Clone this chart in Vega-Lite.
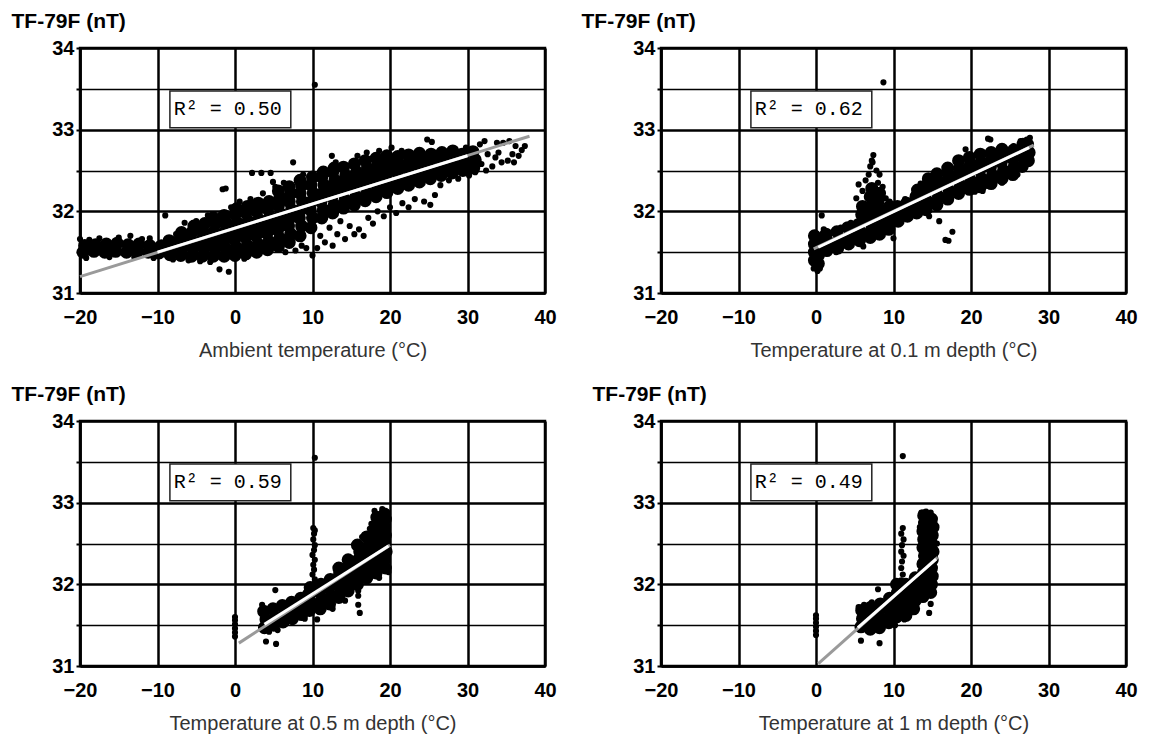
{
  "$schema": "https://vega.github.io/schema/vega-lite/v6.json",
  "background": "white",
  "padding": {"left": 9, "top": 8, "right": 5, "bottom": 5},
  "datasets": {
    "d1": [
      {"x":-19.6,"y":31.5},{"x":-19.4,"y":31.58},{"x":-18.2,"y":31.51},{"x":-18.0,"y":31.59},
      {"x":-16.8,"y":31.5},{"x":-16.6,"y":31.6},{"x":-15.4,"y":31.51},{"x":-15.2,"y":31.61},
      {"x":-14.0,"y":31.5},{"x":-13.8,"y":31.59},{"x":-12.6,"y":31.51},{"x":-12.4,"y":31.6},
      {"x":-11.2,"y":31.5},{"x":-11.0,"y":31.58},{"x":-9.8,"y":31.49},{"x":-9.6,"y":31.57},
      {"x":-8.4,"y":31.47},{"x":-8.2,"y":31.56},{"x":-8.5,"y":31.64},
      {"x":-7.0,"y":31.46},{"x":-6.8,"y":31.55},{"x":-7.1,"y":31.65},{"x":-6.9,"y":31.74},
      {"x":-5.6,"y":31.45},{"x":-5.4,"y":31.55},{"x":-5.7,"y":31.65},{"x":-5.5,"y":31.75},{"x":-5.3,"y":31.82},
      {"x":-4.2,"y":31.45},{"x":-4.0,"y":31.55},{"x":-4.3,"y":31.65},{"x":-4.1,"y":31.75},{"x":-3.9,"y":31.85},
      {"x":-2.8,"y":31.45},{"x":-2.6,"y":31.55},{"x":-2.9,"y":31.65},{"x":-2.7,"y":31.75},{"x":-2.5,"y":31.85},{"x":-2.8,"y":31.92},
      {"x":-1.4,"y":31.45},{"x":-1.2,"y":31.55},{"x":-1.5,"y":31.65},{"x":-1.3,"y":31.75},{"x":-1.1,"y":31.85},{"x":-1.4,"y":31.95},
      {"x":0.0,"y":31.46},{"x":0.2,"y":31.56},{"x":-0.1,"y":31.66},{"x":0.1,"y":31.76},{"x":0.3,"y":31.86},{"x":0.0,"y":31.96},{"x":0.2,"y":32.03},
      {"x":1.4,"y":31.48},{"x":1.6,"y":31.58},{"x":1.3,"y":31.68},{"x":1.5,"y":31.78},{"x":1.7,"y":31.88},{"x":1.4,"y":31.98},{"x":1.6,"y":32.06},
      {"x":2.8,"y":31.5},{"x":3.0,"y":31.6},{"x":2.7,"y":31.7},{"x":2.9,"y":31.8},{"x":3.1,"y":31.9},{"x":2.8,"y":32.0},{"x":3.0,"y":32.1},
      {"x":4.2,"y":31.53},{"x":4.4,"y":31.63},{"x":4.1,"y":31.73},{"x":4.3,"y":31.83},{"x":4.5,"y":31.93},{"x":4.2,"y":32.03},{"x":4.4,"y":32.12},
      {"x":5.6,"y":31.57},{"x":5.8,"y":31.67},{"x":5.5,"y":31.77},{"x":5.7,"y":31.87},{"x":5.9,"y":31.97},{"x":5.6,"y":32.07},{"x":5.8,"y":32.17},{"x":5.6,"y":32.25},
      {"x":7.0,"y":31.62},{"x":7.2,"y":31.72},{"x":6.9,"y":31.82},{"x":7.1,"y":31.92},{"x":7.3,"y":32.02},{"x":7.0,"y":32.12},{"x":7.2,"y":32.22},{"x":7.0,"y":32.3},
      {"x":8.4,"y":31.7},{"x":8.6,"y":31.82},{"x":8.3,"y":31.92},{"x":8.5,"y":32.02},{"x":8.7,"y":32.12},{"x":8.4,"y":32.22},{"x":8.6,"y":32.32},{"x":8.4,"y":32.38},
      {"x":9.8,"y":31.8},{"x":10.0,"y":31.92},{"x":9.7,"y":32.02},{"x":9.9,"y":32.12},{"x":10.1,"y":32.22},{"x":9.8,"y":32.32},{"x":10.0,"y":32.42},
      {"x":11.2,"y":31.92},{"x":11.4,"y":32.02},{"x":11.1,"y":32.12},{"x":11.3,"y":32.22},{"x":11.5,"y":32.32},{"x":11.2,"y":32.42},{"x":11.4,"y":32.48},
      {"x":12.6,"y":31.98},{"x":12.8,"y":32.08},{"x":12.5,"y":32.18},{"x":12.7,"y":32.28},{"x":12.9,"y":32.38},{"x":12.6,"y":32.48},{"x":12.8,"y":32.53},
      {"x":14.0,"y":32.04},{"x":14.2,"y":32.14},{"x":13.9,"y":32.24},{"x":14.1,"y":32.34},{"x":14.3,"y":32.44},{"x":14.0,"y":32.54},
      {"x":15.4,"y":32.08},{"x":15.6,"y":32.18},{"x":15.3,"y":32.28},{"x":15.5,"y":32.38},{"x":15.7,"y":32.48},{"x":15.4,"y":32.58},
      {"x":16.8,"y":32.13},{"x":17.0,"y":32.23},{"x":16.7,"y":32.33},{"x":16.9,"y":32.43},{"x":17.1,"y":32.53},{"x":16.8,"y":32.62},
      {"x":18.2,"y":32.18},{"x":18.4,"y":32.28},{"x":18.1,"y":32.38},{"x":18.3,"y":32.48},{"x":18.5,"y":32.58},{"x":18.2,"y":32.65},
      {"x":19.6,"y":32.23},{"x":19.8,"y":32.33},{"x":19.5,"y":32.43},{"x":19.7,"y":32.53},{"x":19.9,"y":32.63},{"x":19.6,"y":32.68},
      {"x":21.0,"y":32.28},{"x":21.2,"y":32.38},{"x":20.9,"y":32.48},{"x":21.1,"y":32.58},{"x":21.0,"y":32.67},
      {"x":22.4,"y":32.32},{"x":22.6,"y":32.42},{"x":22.3,"y":32.52},{"x":22.5,"y":32.62},{"x":22.4,"y":32.69},
      {"x":23.8,"y":32.36},{"x":24.0,"y":32.46},{"x":23.7,"y":32.56},{"x":23.9,"y":32.66},{"x":23.8,"y":32.71},
      {"x":25.2,"y":32.4},{"x":25.4,"y":32.5},{"x":25.1,"y":32.6},{"x":25.3,"y":32.7},
      {"x":26.6,"y":32.44},{"x":26.8,"y":32.54},{"x":26.5,"y":32.64},{"x":26.7,"y":32.72},
      {"x":28.0,"y":32.47},{"x":28.2,"y":32.57},{"x":27.9,"y":32.67},{"x":28.1,"y":32.74},
      {"x":29.4,"y":32.5},{"x":29.6,"y":32.6},{"x":29.3,"y":32.7},
      {"x":30.8,"y":32.53},{"x":31.0,"y":32.63},{"x":30.7,"y":32.73}
    ],
    "s1": [
      {"x":-20.0,"y":31.66},{"x":-19.2,"y":31.43},{"x":-18.8,"y":31.65},{"x":-17.5,"y":31.67},{"x":-16.2,"y":31.44},
      {"x":-15.0,"y":31.68},{"x":-13.5,"y":31.7},{"x":-13.0,"y":31.44},{"x":-12.0,"y":31.66},{"x":-11.0,"y":31.67},
      {"x":-10.5,"y":31.43},{"x":-9.0,"y":31.95},{"x":-9.5,"y":31.62},{"x":-8.0,"y":31.41},{"x":-7.6,"y":31.72},
      {"x":-6.5,"y":31.86},{"x":-6.0,"y":31.4},{"x":-5.0,"y":31.88},{"x":-4.5,"y":31.39},{"x":-3.5,"y":31.95},
      {"x":-3.2,"y":31.38},{"x":-2.0,"y":31.29},{"x":-0.8,"y":31.26},{"x":-1.6,"y":32.27},{"x":-1.2,"y":32.28},
      {"x":-0.5,"y":32.05},{"x":0.6,"y":32.12},{"x":1.2,"y":31.42},{"x":2.0,"y":32.15},{"x":2.2,"y":32.47},
      {"x":3.4,"y":32.47},{"x":4.6,"y":32.47},{"x":4.9,"y":32.36},{"x":3.6,"y":32.22},{"x":5.2,"y":32.3},
      {"x":6.3,"y":32.35},{"x":7.5,"y":32.6},{"x":8.8,"y":32.45},{"x":9.2,"y":31.55},{"x":10.0,"y":31.46},
      {"x":10.6,"y":31.55},{"x":11.0,"y":31.7},{"x":11.6,"y":31.62},{"x":12.2,"y":31.8},{"x":12.6,"y":31.58},
      {"x":13.2,"y":31.72},{"x":13.6,"y":31.88},{"x":14.2,"y":31.66},{"x":14.8,"y":31.82},{"x":15.4,"y":31.72},
      {"x":16.0,"y":31.78},{"x":16.6,"y":31.7},{"x":17.2,"y":31.92},{"x":17.8,"y":31.85},{"x":18.4,"y":32.0},
      {"x":19.2,"y":31.94},{"x":20.0,"y":32.05},{"x":20.8,"y":31.98},{"x":21.6,"y":32.1},{"x":22.4,"y":32.05},
      {"x":23.2,"y":32.15},{"x":24.4,"y":32.12},{"x":25.2,"y":32.08},{"x":25.8,"y":32.2},{"x":12.5,"y":32.68},
      {"x":10.3,"y":33.55},{"x":13.0,"y":32.6},{"x":15.8,"y":32.68},{"x":17.0,"y":32.72},{"x":18.6,"y":32.74},
      {"x":20.2,"y":32.78},{"x":21.5,"y":32.74},{"x":24.8,"y":32.88},{"x":25.4,"y":32.85},{"x":26.5,"y":32.32},
      {"x":27.6,"y":32.38},{"x":28.8,"y":32.4},{"x":30.2,"y":32.44},{"x":31.0,"y":32.48},{"x":29.8,"y":32.78},
      {"x":31.6,"y":32.82},{"x":32.2,"y":32.86},{"x":33.2,"y":32.55},{"x":33.8,"y":32.84},{"x":34.6,"y":32.84},
      {"x":35.4,"y":32.86},{"x":36.2,"y":32.8},{"x":37.4,"y":32.8},{"x":32.6,"y":32.7},{"x":33.6,"y":32.66},
      {"x":34.4,"y":32.6},{"x":35.2,"y":32.62},{"x":35.8,"y":32.7},{"x":36.6,"y":32.68},{"x":37.0,"y":32.75},
      {"x":31.8,"y":32.58},{"x":32.4,"y":32.5},{"x":34.0,"y":32.72},{"x":36.0,"y":32.6},{"x":6.5,"y":31.5},
      {"x":7.8,"y":31.52},{"x":8.6,"y":31.58}
    ],
    "d2": [
      {"x":-0.2,"y":31.4},{"x":-0.2,"y":31.5},{"x":-0.2,"y":31.6},{"x":-0.2,"y":31.7},
      {"x":0.3,"y":31.36},{"x":0.3,"y":31.46},{"x":0.3,"y":31.56},{"x":0.3,"y":31.66},
      {"x":1.4,"y":31.52},{"x":1.6,"y":31.62},{"x":1.3,"y":31.72},
      {"x":2.8,"y":31.55},{"x":3.0,"y":31.65},{"x":2.7,"y":31.75},
      {"x":4.2,"y":31.6},{"x":4.4,"y":31.7},{"x":4.1,"y":31.8},
      {"x":5.6,"y":31.64},{"x":5.8,"y":31.74},{"x":5.5,"y":31.84},{"x":5.9,"y":31.96},{"x":6.0,"y":32.06},
      {"x":7.0,"y":31.68},{"x":7.2,"y":31.78},{"x":6.9,"y":31.88},{"x":7.1,"y":31.98},{"x":7.3,"y":32.08},{"x":7.0,"y":32.18},{"x":7.2,"y":32.28},
      {"x":8.2,"y":31.72},{"x":8.4,"y":31.82},{"x":8.1,"y":31.92},{"x":8.3,"y":32.02},{"x":8.0,"y":32.12},{"x":8.2,"y":32.22},
      {"x":9.4,"y":31.78},{"x":9.6,"y":31.88},{"x":9.3,"y":31.98},{"x":9.5,"y":32.06},
      {"x":10.6,"y":31.88},{"x":10.8,"y":31.98},{"x":10.5,"y":32.06},
      {"x":11.8,"y":31.94},{"x":12.0,"y":32.02},{"x":11.7,"y":32.1},
      {"x":13.0,"y":31.98},{"x":13.2,"y":32.08},{"x":12.9,"y":32.18},{"x":13.1,"y":32.26},
      {"x":14.2,"y":32.02},{"x":14.4,"y":32.12},{"x":14.1,"y":32.22},{"x":14.3,"y":32.32},{"x":14.5,"y":32.4},
      {"x":15.6,"y":32.08},{"x":15.8,"y":32.18},{"x":15.5,"y":32.28},{"x":15.7,"y":32.38},{"x":15.6,"y":32.46},
      {"x":17.0,"y":32.15},{"x":17.2,"y":32.25},{"x":16.9,"y":32.35},{"x":17.1,"y":32.45},{"x":17.0,"y":32.53},
      {"x":18.4,"y":32.22},{"x":18.6,"y":32.32},{"x":18.3,"y":32.42},{"x":18.5,"y":32.52},{"x":18.4,"y":32.62},
      {"x":19.8,"y":32.27},{"x":20.0,"y":32.37},{"x":19.7,"y":32.47},{"x":19.9,"y":32.57},{"x":19.8,"y":32.66},
      {"x":21.2,"y":32.3},{"x":21.4,"y":32.4},{"x":21.1,"y":32.5},{"x":21.3,"y":32.6},{"x":21.2,"y":32.7},
      {"x":22.6,"y":32.34},{"x":22.8,"y":32.44},{"x":22.5,"y":32.54},{"x":22.7,"y":32.64},{"x":22.6,"y":32.72},
      {"x":24.0,"y":32.4},{"x":24.2,"y":32.5},{"x":23.9,"y":32.6},{"x":24.1,"y":32.7},{"x":24.0,"y":32.76},
      {"x":25.4,"y":32.45},{"x":25.6,"y":32.55},{"x":25.3,"y":32.65},{"x":25.5,"y":32.75},
      {"x":26.6,"y":32.55},{"x":26.8,"y":32.65},{"x":26.5,"y":32.75},{"x":26.7,"y":32.82},
      {"x":27.4,"y":32.62},{"x":27.5,"y":32.72},{"x":27.3,"y":32.82}
    ],
    "s2": [
      {"x":-0.3,"y":31.3},{"x":0.2,"y":31.27},{"x":0.5,"y":31.3},{"x":0.74,"y":31.95},{"x":2.6,"y":31.5},
      {"x":6.1,"y":31.57},{"x":10.0,"y":31.67},{"x":1.0,"y":31.78},{"x":3.2,"y":31.8},{"x":4.5,"y":31.86},
      {"x":5.2,"y":32.16},{"x":5.5,"y":32.33},{"x":6.0,"y":32.25},{"x":6.4,"y":32.38},{"x":6.8,"y":32.45},
      {"x":7.0,"y":32.55},{"x":7.3,"y":32.6},{"x":7.4,"y":32.69},{"x":7.2,"y":32.62},{"x":7.8,"y":32.5},
      {"x":8.2,"y":32.45},{"x":8.0,"y":32.35},{"x":8.6,"y":32.3},{"x":9.0,"y":32.16},{"x":9.5,"y":32.12},
      {"x":8.7,"y":33.58},{"x":14.6,"y":31.94},{"x":15.9,"y":31.88},{"x":16.7,"y":31.65},{"x":17.1,"y":31.64},
      {"x":17.6,"y":31.75},{"x":19.3,"y":32.76},{"x":22.2,"y":32.89},{"x":22.5,"y":32.88},{"x":22.2,"y":32.31},
      {"x":24.0,"y":32.35},{"x":26.0,"y":32.45},{"x":27.6,"y":32.9},{"x":27.2,"y":32.88},{"x":11.5,"y":32.15},
      {"x":13.5,"y":32.34},{"x":20.5,"y":32.24},{"x":25.5,"y":32.8},{"x":26.4,"y":32.86},{"x":21.5,"y":32.25}
    ],
    "d3": [
      {"x":3.8,"y":31.47},{"x":4.0,"y":31.57},{"x":3.7,"y":31.67},
      {"x":5.0,"y":31.5},{"x":5.2,"y":31.6},{"x":4.9,"y":31.7},
      {"x":6.2,"y":31.54},{"x":6.4,"y":31.64},{"x":6.1,"y":31.74},
      {"x":7.4,"y":31.58},{"x":7.6,"y":31.68},{"x":7.3,"y":31.78},
      {"x":8.6,"y":31.63},{"x":8.8,"y":31.73},{"x":8.5,"y":31.83},
      {"x":9.6,"y":31.68},{"x":9.8,"y":31.78},{"x":9.5,"y":31.88},{"x":9.7,"y":31.96},
      {"x":11.0,"y":31.7},{"x":11.2,"y":31.8},{"x":10.9,"y":31.9},{"x":11.1,"y":32.0},
      {"x":12.2,"y":31.76},{"x":12.4,"y":31.86},{"x":12.1,"y":31.96},{"x":12.3,"y":32.06},
      {"x":13.4,"y":31.84},{"x":13.6,"y":31.94},{"x":13.3,"y":32.04},{"x":13.5,"y":32.14},{"x":13.4,"y":32.2},
      {"x":14.6,"y":31.92},{"x":14.8,"y":32.02},{"x":14.5,"y":32.12},{"x":14.7,"y":32.22},{"x":14.6,"y":32.3},
      {"x":15.8,"y":32.0},{"x":16.0,"y":32.1},{"x":15.7,"y":32.2},{"x":15.9,"y":32.3},{"x":16.1,"y":32.4},{"x":15.8,"y":32.48},
      {"x":17.0,"y":32.08},{"x":17.2,"y":32.18},{"x":16.9,"y":32.28},{"x":17.1,"y":32.38},{"x":17.3,"y":32.48},{"x":17.0,"y":32.58},
      {"x":18.2,"y":32.14},{"x":18.4,"y":32.24},{"x":18.1,"y":32.34},{"x":18.3,"y":32.44},{"x":18.5,"y":32.54},{"x":18.2,"y":32.64},{"x":18.4,"y":32.74},{"x":18.3,"y":32.82},
      {"x":19.4,"y":32.2},{"x":19.3,"y":32.3},{"x":19.5,"y":32.4},{"x":19.3,"y":32.5},{"x":19.4,"y":32.6},{"x":19.3,"y":32.7},{"x":19.4,"y":32.8},{"x":19.3,"y":32.86}
    ],
    "s3": [
      {"x":0.0,"y":31.36},{"x":0.0,"y":31.41},{"x":0.0,"y":31.46},{"x":0.0,"y":31.51},{"x":0.0,"y":31.56},{"x":0.0,"y":31.6},
      {"x":10.1,"y":32.69},{"x":10.3,"y":32.66},{"x":10.2,"y":32.62},{"x":10.1,"y":32.55},{"x":10.3,"y":32.48},
      {"x":10.2,"y":32.42},{"x":10.0,"y":32.36},{"x":10.3,"y":32.3},{"x":10.1,"y":32.24},{"x":10.2,"y":32.18},
      {"x":10.0,"y":32.12},{"x":10.3,"y":32.06},{"x":10.1,"y":32.0},
      {"x":10.3,"y":33.55},{"x":5.2,"y":31.93},{"x":4.0,"y":31.3},{"x":5.3,"y":31.27},{"x":15.9,"y":31.92},
      {"x":15.9,"y":31.86},{"x":15.9,"y":31.75},{"x":16.1,"y":31.65},{"x":10.6,"y":31.57},{"x":3.5,"y":31.75},
      {"x":4.4,"y":31.42},{"x":5.5,"y":31.44},{"x":9.0,"y":31.58},{"x":12.6,"y":31.7},{"x":14.2,"y":31.8},
      {"x":18.0,"y":32.9},{"x":19.0,"y":32.92},{"x":19.6,"y":32.88},{"x":17.6,"y":32.74},{"x":16.4,"y":32.58},
      {"x":17.4,"y":32.68},{"x":19.8,"y":32.15},{"x":18.6,"y":32.08}
    ],
    "d4": [
      {"x":5.8,"y":31.48},{"x":6.0,"y":31.58},{"x":5.9,"y":31.68},
      {"x":7.0,"y":31.45},{"x":7.2,"y":31.55},{"x":6.9,"y":31.65},{"x":7.1,"y":31.72},
      {"x":8.2,"y":31.47},{"x":8.4,"y":31.57},{"x":8.1,"y":31.67},{"x":8.3,"y":31.76},
      {"x":9.4,"y":31.53},{"x":9.6,"y":31.63},{"x":9.3,"y":31.73},{"x":9.5,"y":31.83},
      {"x":10.4,"y":31.6},{"x":10.6,"y":31.7},{"x":10.3,"y":31.8},{"x":10.5,"y":31.9},{"x":10.4,"y":32.0},
      {"x":11.6,"y":31.62},{"x":11.8,"y":31.72},{"x":11.5,"y":31.82},{"x":11.7,"y":31.92},{"x":11.6,"y":32.0},
      {"x":12.6,"y":31.7},{"x":12.8,"y":31.8},{"x":12.5,"y":31.9},{"x":12.7,"y":32.0},{"x":12.8,"y":32.08},
      {"x":13.8,"y":31.85},{"x":13.9,"y":31.95},{"x":13.7,"y":32.05},{"x":13.9,"y":32.15},{"x":13.8,"y":32.25},{"x":14.0,"y":32.35},
      {"x":13.8,"y":32.45},{"x":13.9,"y":32.55},{"x":13.8,"y":32.65},{"x":14.0,"y":32.75},{"x":13.9,"y":32.84},
      {"x":14.8,"y":31.9},{"x":14.9,"y":32.0},{"x":15.0,"y":32.1},{"x":14.9,"y":32.2},{"x":15.0,"y":32.3},{"x":15.1,"y":32.4},
      {"x":14.9,"y":32.5},{"x":15.0,"y":32.6},{"x":15.1,"y":32.7},{"x":14.9,"y":32.8}
    ],
    "s4": [
      {"x":0.0,"y":31.38},{"x":0.0,"y":31.43},{"x":0.0,"y":31.48},{"x":0.0,"y":31.53},{"x":0.0,"y":31.58},{"x":0.0,"y":31.62},
      {"x":11.2,"y":32.69},{"x":11.0,"y":32.62},{"x":11.3,"y":32.55},{"x":11.1,"y":32.48},{"x":11.0,"y":32.4},
      {"x":11.3,"y":32.35},{"x":11.1,"y":32.28},{"x":11.0,"y":32.2},{"x":11.2,"y":32.12},{"x":11.0,"y":32.05},
      {"x":11.2,"y":33.57},{"x":8.0,"y":31.94},{"x":5.8,"y":31.31},{"x":8.2,"y":31.28},{"x":14.6,"y":31.88},
      {"x":14.8,"y":31.76},{"x":14.6,"y":31.65},{"x":11.4,"y":31.57},{"x":5.5,"y":31.72},{"x":6.2,"y":31.75},
      {"x":7.2,"y":31.78},{"x":13.6,"y":32.88},{"x":14.2,"y":32.89},{"x":14.8,"y":32.88},{"x":13.4,"y":32.7},
      {"x":15.6,"y":32.5},{"x":9.8,"y":31.52},{"x":10.2,"y":31.5}
    ],
    "fit": [
      {"p":1,"part":"all","x":-20,"y":31.2},{"p":1,"part":"all","x":38,"y":32.92},
      {"p":1,"part":"cloud","x":-10,"y":31.5},{"p":1,"part":"cloud","x":30,"y":32.68},
      {"p":2,"part":"all","x":-0.3,"y":31.54},{"p":2,"part":"all","x":28.1,"y":32.81},
      {"p":2,"part":"cloud","x":0.3,"y":31.56},{"p":2,"part":"cloud","x":27.5,"y":32.78},
      {"p":3,"part":"all","x":0.5,"y":31.28},{"p":3,"part":"all","x":20,"y":32.48},
      {"p":3,"part":"cloud","x":3.8,"y":31.51},{"p":3,"part":"cloud","x":19.8,"y":32.47},
      {"p":4,"part":"all","x":0.3,"y":31.03},{"p":4,"part":"all","x":15.7,"y":32.33},
      {"p":4,"part":"cloud","x":5.4,"y":31.47},{"p":4,"part":"cloud","x":15.5,"y":32.31}
    ],
    "r2": [
      {"p":1,"label":"R² = 0.50"},
      {"p":2,"label":"R² = 0.62"},
      {"p":3,"label":"R² = 0.59"},
      {"p":4,"label":"R² = 0.49"}
    ]
  },
  "columns": 2,
  "spacing": {"row": 128, "column": 116},
  "bounds": "flush",
  "concat": [
    {
      "width": 465, "height": 245,
      "layer": [
        {"data": {"name": "d1"}, "mark": {"type": "circle", "size": 170, "color": "black", "opacity": 1},
         "encoding": {
           "x": {"field": "x", "type": "quantitative", "scale": {"domain": [-20, 40], "nice": false}, "axis": {"title": "Ambient temperature (°C)", "values": [-20, -10, 0, 10, 20, 30, 40]}},
           "y": {"field": "y", "type": "quantitative", "scale": {"domain": [31, 34], "nice": false, "zero": false}, "axis": {"title": "TF-79F (nT)", "titleX": -69, "values": [31, 31.5, 32, 32.5, 33, 33.5, 34]}}
         }},
        {"data": {"name": "s1"}, "mark": {"type": "circle", "size": 38, "color": "black", "opacity": 1},
         "encoding": {"x": {"field": "x", "type": "quantitative"}, "y": {"field": "y", "type": "quantitative"}}},
        {"data": {"name": "fit"}, "transform": [{"filter": "datum.p == 1 && datum.part == 'all'"}], "mark": {"type": "line", "color": "#9a9a9a", "strokeWidth": 3},
         "encoding": {"x": {"field": "x", "type": "quantitative"}, "y": {"field": "y", "type": "quantitative"}}},
        {"data": {"name": "fit"}, "transform": [{"filter": "datum.p == 1 && datum.part == 'cloud'"}], "mark": {"type": "line", "color": "white", "strokeWidth": 3},
         "encoding": {"x": {"field": "x", "type": "quantitative"}, "y": {"field": "y", "type": "quantitative"}}},
        {"data": {"name": "r2"}, "transform": [{"filter": "datum.p == 1"}], "mark": {"type": "rect", "fill": "white", "stroke": "#222", "strokeWidth": 1.5},
         "encoding": {"x": {"datum": -8.4, "type": "quantitative"}, "x2": {"datum": 7.2}, "y": {"datum": 33.475, "type": "quantitative"}, "y2": {"datum": 33.025}}},
        {"data": {"name": "r2"}, "transform": [{"filter": "datum.p == 1"}], "mark": {"type": "text", "align": "left", "baseline": "middle", "font": "Liberation Mono", "fontSize": 20, "color": "black"},
         "encoding": {"x": {"datum": -7.9, "type": "quantitative"}, "y": {"datum": 33.25, "type": "quantitative"}, "text": {"field": "label", "type": "nominal"}}}
      ]
    },
    {
      "width": 465, "height": 245,
      "layer": [
        {"data": {"name": "d2"}, "mark": {"type": "circle", "size": 170, "color": "black", "opacity": 1},
         "encoding": {
           "x": {"field": "x", "type": "quantitative", "scale": {"domain": [-20, 40], "nice": false}, "axis": {"title": "Temperature at 0.1 m depth (°C)", "values": [-20, -10, 0, 10, 20, 30, 40]}},
           "y": {"field": "y", "type": "quantitative", "scale": {"domain": [31, 34], "nice": false, "zero": false}, "axis": {"title": "TF-79F (nT)", "titleX": -80, "values": [31, 31.5, 32, 32.5, 33, 33.5, 34]}}
         }},
        {"data": {"name": "s2"}, "mark": {"type": "circle", "size": 38, "color": "black", "opacity": 1},
         "encoding": {"x": {"field": "x", "type": "quantitative"}, "y": {"field": "y", "type": "quantitative"}}},
        {"data": {"name": "fit"}, "transform": [{"filter": "datum.p == 2 && datum.part == 'all'"}], "mark": {"type": "line", "color": "#9a9a9a", "strokeWidth": 3},
         "encoding": {"x": {"field": "x", "type": "quantitative"}, "y": {"field": "y", "type": "quantitative"}}},
        {"data": {"name": "fit"}, "transform": [{"filter": "datum.p == 2 && datum.part == 'cloud'"}], "mark": {"type": "line", "color": "white", "strokeWidth": 3},
         "encoding": {"x": {"field": "x", "type": "quantitative"}, "y": {"field": "y", "type": "quantitative"}}},
        {"data": {"name": "r2"}, "transform": [{"filter": "datum.p == 2"}], "mark": {"type": "rect", "fill": "white", "stroke": "#222", "strokeWidth": 1.5},
         "encoding": {"x": {"datum": -8.4, "type": "quantitative"}, "x2": {"datum": 7.2}, "y": {"datum": 33.475, "type": "quantitative"}, "y2": {"datum": 33.025}}},
        {"data": {"name": "r2"}, "transform": [{"filter": "datum.p == 2"}], "mark": {"type": "text", "align": "left", "baseline": "middle", "font": "Liberation Mono", "fontSize": 20, "color": "black"},
         "encoding": {"x": {"datum": -7.9, "type": "quantitative"}, "y": {"datum": 33.25, "type": "quantitative"}, "text": {"field": "label", "type": "nominal"}}}
      ]
    },
    {
      "width": 465, "height": 245,
      "layer": [
        {"data": {"name": "d3"}, "mark": {"type": "circle", "size": 170, "color": "black", "opacity": 1},
         "encoding": {
           "x": {"field": "x", "type": "quantitative", "scale": {"domain": [-20, 40], "nice": false}, "axis": {"title": "Temperature at 0.5 m depth (°C)", "values": [-20, -10, 0, 10, 20, 30, 40]}},
           "y": {"field": "y", "type": "quantitative", "scale": {"domain": [31, 34], "nice": false, "zero": false}, "axis": {"title": "TF-79F (nT)", "titleX": -69, "values": [31, 31.5, 32, 32.5, 33, 33.5, 34]}}
         }},
        {"data": {"name": "s3"}, "mark": {"type": "circle", "size": 38, "color": "black", "opacity": 1},
         "encoding": {"x": {"field": "x", "type": "quantitative"}, "y": {"field": "y", "type": "quantitative"}}},
        {"data": {"name": "fit"}, "transform": [{"filter": "datum.p == 3 && datum.part == 'all'"}], "mark": {"type": "line", "color": "#9a9a9a", "strokeWidth": 3},
         "encoding": {"x": {"field": "x", "type": "quantitative"}, "y": {"field": "y", "type": "quantitative"}}},
        {"data": {"name": "fit"}, "transform": [{"filter": "datum.p == 3 && datum.part == 'cloud'"}], "mark": {"type": "line", "color": "white", "strokeWidth": 3},
         "encoding": {"x": {"field": "x", "type": "quantitative"}, "y": {"field": "y", "type": "quantitative"}}},
        {"data": {"name": "r2"}, "transform": [{"filter": "datum.p == 3"}], "mark": {"type": "rect", "fill": "white", "stroke": "#222", "strokeWidth": 1.5},
         "encoding": {"x": {"datum": -8.4, "type": "quantitative"}, "x2": {"datum": 7.2}, "y": {"datum": 33.475, "type": "quantitative"}, "y2": {"datum": 33.025}}},
        {"data": {"name": "r2"}, "transform": [{"filter": "datum.p == 3"}], "mark": {"type": "text", "align": "left", "baseline": "middle", "font": "Liberation Mono", "fontSize": 20, "color": "black"},
         "encoding": {"x": {"datum": -7.9, "type": "quantitative"}, "y": {"datum": 33.25, "type": "quantitative"}, "text": {"field": "label", "type": "nominal"}}}
      ]
    },
    {
      "width": 465, "height": 245,
      "layer": [
        {"data": {"name": "d4"}, "mark": {"type": "circle", "size": 170, "color": "black", "opacity": 1},
         "encoding": {
           "x": {"field": "x", "type": "quantitative", "scale": {"domain": [-20, 40], "nice": false}, "axis": {"title": "Temperature at 1 m depth (°C)", "values": [-20, -10, 0, 10, 20, 30, 40]}},
           "y": {"field": "y", "type": "quantitative", "scale": {"domain": [31, 34], "nice": false, "zero": false}, "axis": {"title": "TF-79F (nT)", "titleX": -69, "values": [31, 31.5, 32, 32.5, 33, 33.5, 34]}}
         }},
        {"data": {"name": "s4"}, "mark": {"type": "circle", "size": 38, "color": "black", "opacity": 1},
         "encoding": {"x": {"field": "x", "type": "quantitative"}, "y": {"field": "y", "type": "quantitative"}}},
        {"data": {"name": "fit"}, "transform": [{"filter": "datum.p == 4 && datum.part == 'all'"}], "mark": {"type": "line", "color": "#9a9a9a", "strokeWidth": 3},
         "encoding": {"x": {"field": "x", "type": "quantitative"}, "y": {"field": "y", "type": "quantitative"}}},
        {"data": {"name": "fit"}, "transform": [{"filter": "datum.p == 4 && datum.part == 'cloud'"}], "mark": {"type": "line", "color": "white", "strokeWidth": 3},
         "encoding": {"x": {"field": "x", "type": "quantitative"}, "y": {"field": "y", "type": "quantitative"}}},
        {"data": {"name": "r2"}, "transform": [{"filter": "datum.p == 4"}], "mark": {"type": "rect", "fill": "white", "stroke": "#222", "strokeWidth": 1.5},
         "encoding": {"x": {"datum": -8.4, "type": "quantitative"}, "x2": {"datum": 7.2}, "y": {"datum": 33.475, "type": "quantitative"}, "y2": {"datum": 33.025}}},
        {"data": {"name": "r2"}, "transform": [{"filter": "datum.p == 4"}], "mark": {"type": "text", "align": "left", "baseline": "middle", "font": "Liberation Mono", "fontSize": 20, "color": "black"},
         "encoding": {"x": {"datum": -7.9, "type": "quantitative"}, "y": {"datum": 33.25, "type": "quantitative"}, "text": {"field": "label", "type": "nominal"}}}
      ]
    }
  ],
  "config": {
    "view": {"stroke": "black", "strokeWidth": 2.5},
    "axis": {
      "domainColor": "black", "domainWidth": 2.5,
      "grid": true, "gridColor": "black", "gridWidth": 2.5, "gridOpacity": 1,
      "tickColor": "black", "tickWidth": 2,
      "labelFont": "Liberation Sans", "labelFontWeight": "bold", "labelFontSize": 20, "labelColor": "black",
      "titleFont": "Liberation Sans"
    },
    "axisX": {
      "ticks": false, "tickSize": 0, "labelPadding": 14, "labelFlush": false, "labelOverlap": false,
      "titleFontWeight": "normal", "titleFontSize": 20, "titleColor": "#333",
      "titleBaseline": "alphabetic", "titleY": 63
    },
    "axisY": {
      "tickSize": 4, "labelPadding": 2, "labelFlush": false, "labelOverlap": false,
      "gridWidth": {"condition": {"test": "datum.value % 1 !== 0", "value": 1.6}, "value": 2.5},
      "labelExpr": "datum.value % 1 === 0 ? format(datum.value, 'd') : ''",
      "titleAngle": 0, "titleAlign": "left", "titleBaseline": "alphabetic", "titleY": -21,
      "titleFontWeight": "bold", "titleFontSize": 21, "titleColor": "black"
    }
  }
}
